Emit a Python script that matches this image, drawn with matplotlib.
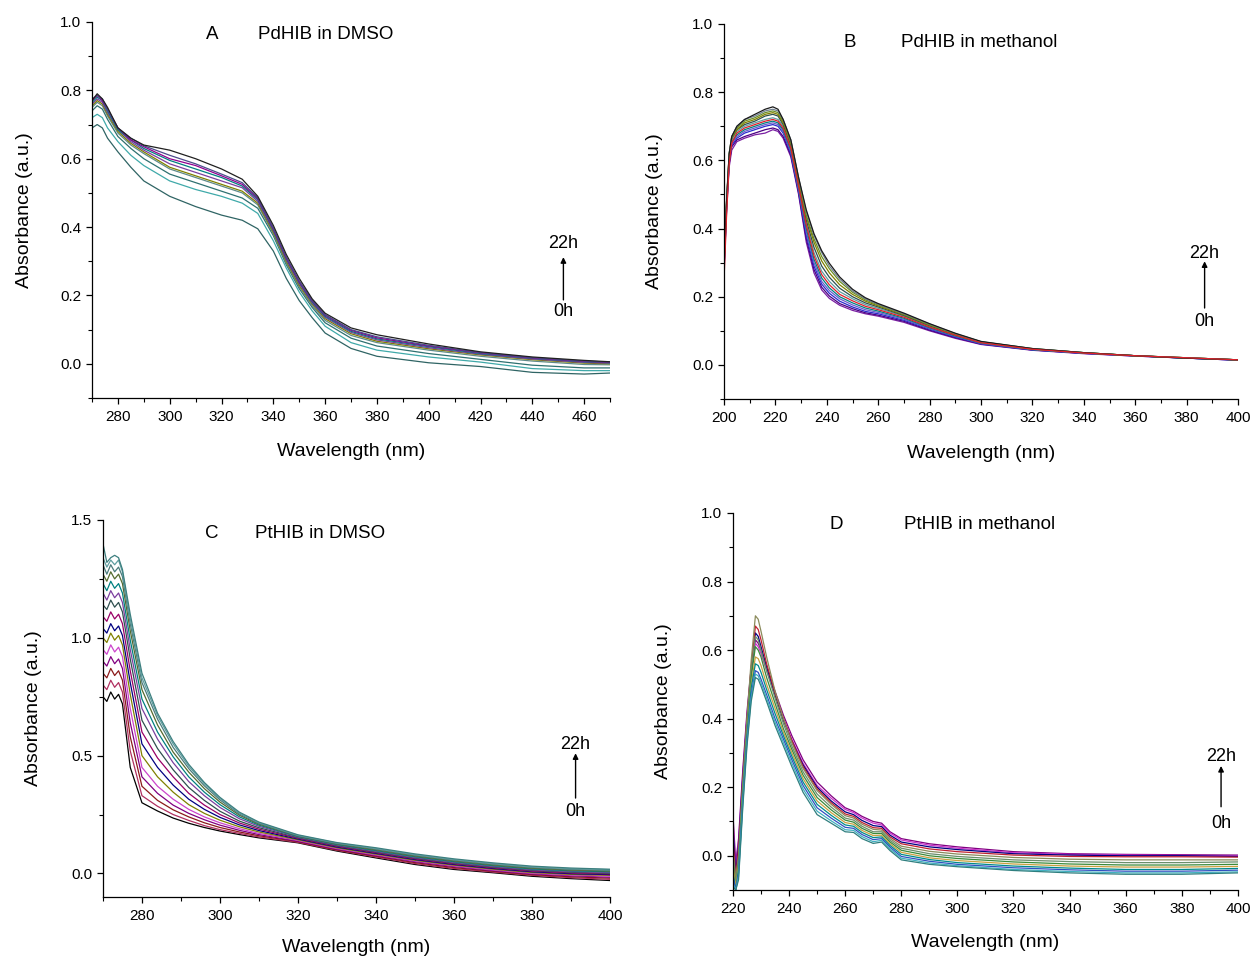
import matplotlib
matplotlib.use("Agg")
import matplotlib.pyplot as plt
from matplotlib.ticker import MultipleLocator

plt.rcParams['font.family'] = ['Liberation Sans', 'DejaVu Sans']

# ---------------- Panel A: PdHIB in DMSO ----------------
a_wavelength = [270, 272, 274, 276, 280, 285, 290, 300, 310, 320, 328, 334, 340, 345, 350,
                355, 360, 370, 380, 400, 420, 440, 460, 470]
a_absorbance = [
    [.69, .70, .69, .66, .62, .575, .535, .49, .46, .435, .42, .395, .33, .25, .185, .135, .09, .045, .022, .003, -.008, -.025, -.03, -.027],
    [.72, .73, .72, .69, .65, .61, .58, .535, .51, .49, .47, .44, .36, .28, .21, .155, .11, .062, .04, .02, .005, -.014, -.02, -.02],
    [.74, .755, .745, .715, .665, .63, .60, .555, .53, .505, .485, .455, .375, .29, .22, .165, .12, .075, .052, .03, .013, -.004, -.012, -.012],
    [.75, .765, .755, .725, .675, .64, .615, .57, .545, .52, .50, .465, .38, .295, .225, .17, .127, .083, .062, .04, .022, .008, -.002, -.003],
    [.755, .77, .76, .73, .68, .645, .62, .575, .55, .525, .505, .47, .385, .30, .23, .175, .132, .088, .066, .044, .026, .012, .002, .0],
    [.76, .775, .765, .735, .685, .65, .625, .585, .56, .535, .515, .475, .39, .305, .235, .178, .136, .092, .07, .047, .028, .014, .004, .002],
    [.765, .78, .77, .74, .685, .655, .63, .595, .57, .545, .52, .48, .392, .308, .238, .181, .139, .095, .073, .05, .03, .016, .006, .003],
    [.77, .785, .77, .745, .69, .655, .635, .60, .58, .55, .525, .483, .395, .31, .24, .184, .142, .098, .076, .052, .032, .017, .007, .004],
    [.775, .785, .775, .745, .69, .66, .638, .61, .585, .555, .53, .486, .398, .313, .243, .186, .144, .10, .079, .054, .033, .018, .008, .005],
    [.77, .79, .775, .75, .69, .66, .64, .625, .60, .57, .54, .49, .405, .32, .25, .19, .148, .105, .085, .058, .035, .02, .01, .006],
]
a_colors = ['#2F6464', '#3FA9A9', '#2E7070', '#5E8A8A', '#808000', '#7B3F9E', '#008080',
            '#900090', '#4B4B8B', '#202020']

# ---------------- Panel B: PdHIB in methanol ----------------
b_wavelength = [200, 201, 202, 203, 205, 208, 212, 216, 219, 221, 223, 226, 229, 232, 235, 238,
                241, 245, 250, 255, 260, 270, 280, 290, 300, 320, 340, 360, 380, 400]
b_absorbance = [
    [.27, .45, .58, .63, .655, .665, .675, .68, .69, .685, .665, .61, .50, .36, .27, .22, .195, .175, .16, .15, .143, .125, .10, .078, .06, .043, .033, .026, .02, .014],
    [.28, .46, .59, .64, .66, .67, .68, .69, .695, .69, .67, .615, .505, .37, .28, .228, .202, .18, .165, .153, .146, .128, .102, .08, .061, .044, .034, .026, .02, .014],
    [.28, .46, .595, .645, .665, .68, .69, .70, .705, .70, .68, .62, .51, .38, .29, .237, .21, .187, .17, .157, .15, .131, .105, .082, .062, .044, .034, .027, .02, .014],
    [.29, .47, .60, .65, .67, .685, .695, .705, .71, .705, .685, .625, .515, .39, .30, .245, .218, .194, .176, .162, .154, .134, .107, .084, .063, .045, .035, .027, .02, .015],
    [.29, .47, .60, .655, .675, .69, .70, .71, .715, .71, .69, .63, .52, .40, .31, .255, .226, .20, .182, .167, .158, .137, .109, .085, .064, .045, .035, .027, .02, .015],
    [.29, .47, .61, .66, .685, .70, .71, .72, .725, .72, .70, .64, .53, .415, .33, .275, .245, .215, .194, .177, .166, .143, .113, .088, .066, .046, .035, .027, .021, .015],
    [.30, .48, .61, .665, .69, .705, .715, .73, .735, .73, .705, .645, .535, .425, .345, .29, .257, .225, .20, .182, .17, .145, .115, .089, .067, .047, .036, .027, .021, .015],
    [.30, .48, .615, .665, .69, .71, .72, .735, .74, .735, .71, .65, .54, .435, .36, .305, .27, .235, .207, .187, .173, .147, .117, .09, .067, .047, .036, .027, .021, .015],
    [.30, .48, .62, .67, .695, .715, .725, .74, .745, .74, .715, .655, .545, .44, .37, .318, .282, .245, .213, .191, .176, .149, .118, .091, .068, .048, .036, .027, .021, .015],
    [.31, .49, .62, .67, .70, .72, .73, .745, .75, .745, .72, .66, .55, .45, .38, .33, .29, .252, .217, .194, .178, .15, .12, .092, .068, .048, .036, .027, .021, .015],
    [.30, .48, .62, .67, .70, .72, .735, .75, .757, .75, .72, .66, .55, .455, .385, .335, .298, .258, .222, .197, .18, .152, .121, .093, .069, .048, .036, .027, .02, .015],
    [.25, .44, .59, .65, .68, .695, .705, .715, .72, .715, .695, .635, .525, .41, .32, .265, .235, .207, .188, .172, .162, .14, .111, .087, .065, .046, .035, .027, .021, .015],
]
b_colors = ['#7A1FA2', '#4B0082', '#2A2ACD', '#6A5ACD', '#008080', '#5F9EA0', '#2F4F4F',
            '#808000', '#6B8E23', '#708090', '#1A1A1A', '#E0202A']

# ---------------- Panel C: PtHIB in DMSO ----------------
c_wavelength = [270, 271, 272, 273, 274, 275, 277, 280, 284, 288, 292, 296, 300, 305, 310,
                320, 330, 340, 350, 360, 370, 380, 390, 400]
c_absorbance = [
    [.75, .73, .77, .74, .76, .72, .45, .30, .265, .235, .213, .195, .18, .165, .151, .13, .095, .066, .038, .017, .003, -.012, -.022, -.03],
    [.80, .78, .82, .79, .81, .77, .52, .33, .285, .25, .225, .203, .186, .17, .155, .132, .098, .07, .042, .021, .006, -.008, -.018, -.025],
    [.85, .83, .87, .84, .86, .82, .58, .37, .31, .27, .24, .215, .195, .176, .16, .135, .10, .073, .046, .025, .009, -.005, -.014, -.02],
    [.90, .88, .92, .89, .91, .87, .64, .41, .34, .29, .255, .228, .205, .183, .165, .137, .103, .076, .05, .029, .012, -.002, -.01, -.016],
    [.95, .93, .97, .94, .96, .92, .70, .45, .37, .315, .272, .24, .215, .19, .17, .14, .106, .079, .053, .032, .015, .001, -.007, -.012],
    [1.00, .98, 1.02, .99, 1.01, .97, .76, .50, .41, .345, .292, .255, .226, .198, .176, .143, .109, .082, .056, .035, .018, .004, -.004, -.008],
    [1.04, 1.02, 1.06, 1.03, 1.05, 1.01, .81, .55, .45, .375, .315, .272, .238, .206, .182, .146, .112, .085, .059, .038, .021, .007, -.001, -.005],
    [1.09, 1.07, 1.11, 1.08, 1.10, 1.06, .86, .60, .49, .41, .34, .29, .25, .214, .188, .149, .115, .088, .062, .041, .024, .01, .002, -.002],
    [1.14, 1.12, 1.16, 1.13, 1.15, 1.11, .91, .65, .53, .44, .365, .31, .264, .222, .194, .152, .118, .091, .065, .044, .027, .013, .005, .001],
    [1.19, 1.16, 1.20, 1.17, 1.19, 1.15, .95, .70, .57, .47, .39, .33, .28, .232, .20, .155, .121, .094, .068, .047, .03, .016, .008, .004],
    [1.23, 1.20, 1.24, 1.21, 1.23, 1.19, .99, .74, .60, .495, .41, .345, .292, .24, .205, .157, .123, .097, .071, .05, .033, .019, .011, .007],
    [1.27, 1.24, 1.28, 1.25, 1.27, 1.23, 1.03, .78, .63, .515, .43, .36, .303, .247, .209, .159, .125, .10, .074, .053, .036, .022, .014, .01],
    [1.31, 1.27, 1.31, 1.28, 1.30, 1.26, 1.06, .81, .655, .535, .445, .372, .312, .252, .212, .16, .127, .103, .077, .056, .039, .025, .017, .013],
    [1.34, 1.30, 1.33, 1.31, 1.33, 1.28, 1.08, .83, .67, .55, .455, .38, .318, .256, .215, .162, .129, .106, .08, .059, .042, .028, .02, .016],
    [1.40, 1.32, 1.34, 1.35, 1.34, 1.29, 1.10, .85, .68, .56, .463, .386, .323, .26, .218, .164, .131, .109, .083, .062, .045, .031, .023, .018],
]
c_colors = ['#000000', '#B03060', '#8B1A1A', '#800080', '#CC44CC', '#808000', '#000080',
            '#990066', '#2F4F4F', '#7B3F9E', '#008080', '#556B2F', '#4B7B7B', '#5F9EA0', '#3C7F7F']

# ---------------- Panel D: PtHIB in methanol ----------------
d_wavelength = [220, 221, 222, 223.5, 225, 226.5, 228, 229, 230, 232, 235, 238, 241, 245, 250,
                255, 260, 263, 266, 270, 273, 276, 280, 290, 300, 320, 340, 360, 380, 400]
d_absorbance = [
    [.12, -.02, .05, .25, .42, .55, .63, .62, .60, .55, .48, .41, .35, .28, .215, .175, .14, .13, .115, .10, .095, .07, .05, .035, .026, .012, .006, .004, .003, .002],
    [.10, -.04, .04, .24, .41, .54, .62, .61, .59, .54, .47, .40, .34, .27, .205, .168, .135, .126, .11, .095, .09, .066, .046, .031, .022, .009, .004, .002, .001, .0],
    [.08, -.05, .03, .23, .40, .53, .65, .64, .61, .55, .47, .395, .335, .265, .20, .16, .128, .12, .103, .088, .085, .06, .04, .026, .018, .006, .002, .0, .0, -.002],
    [.05, -.06, .02, .22, .40, .55, .67, .66, .63, .56, .475, .40, .335, .26, .195, .155, .122, .115, .097, .082, .08, .055, .035, .02, .012, .002, -.002, -.003, -.003, -.004],
    [.02, -.07, .0, .21, .40, .57, .70, .69, .655, .58, .48, .40, .33, .255, .19, .15, .117, .11, .092, .077, .075, .05, .028, .013, .005, -.005, -.01, -.012, -.012, -.012],
    [.0, -.08, -.01, .20, .38, .54, .64, .63, .60, .54, .46, .385, .32, .245, .18, .142, .11, .104, .086, .07, .07, .045, .022, .006, -.002, -.012, -.017, -.02, -.02, -.018],
    [-.02, -.09, -.02, .19, .37, .52, .61, .60, .58, .52, .445, .37, .31, .235, .17, .134, .104, .098, .08, .065, .065, .04, .016, .0, -.008, -.018, -.024, -.027, -.027, -.025],
    [-.03, -.09, -.03, .18, .36, .50, .58, .575, .555, .50, .43, .36, .30, .225, .16, .126, .097, .092, .074, .059, .06, .035, .01, -.006, -.014, -.024, -.03, -.033, -.033, -.031],
    [-.05, -.10, -.04, .17, .35, .49, .56, .555, .535, .485, .415, .35, .29, .215, .15, .118, .09, .086, .068, .053, .055, .03, .004, -.011, -.02, -.03, -.036, -.04, -.04, -.037],
    [-.06, -.10, -.05, .16, .34, .47, .54, .535, .515, .47, .40, .34, .28, .205, .14, .11, .083, .08, .062, .047, .05, .025, -.002, -.016, -.025, -.035, -.041, -.045, -.045, -.042],
    [-.08, -.10, -.06, .15, .33, .46, .53, .525, .505, .46, .39, .33, .27, .195, .13, .102, .076, .074, .056, .041, .045, .02, -.007, -.021, -.029, -.04, -.046, -.05, -.05, -.047],
    [-.09, -.10, -.07, .14, .32, .45, .52, .515, .495, .45, .38, .32, .26, .185, .12, .095, .07, .068, .05, .036, .04, .015, -.012, -.025, -.032, -.043, -.05, -.054, -.054, -.05],
]
d_colors = ['#800080', '#CC33CC', '#000080', '#C02030', '#8A8A5A', '#6B8E6B', '#3A8A3A',
            '#C8A040', '#008B8B', '#3050C0', '#40B0C0', '#2F7F7F']

# ---------------- layout ----------------
panels = [
    dict(wl=a_wavelength, ab=a_absorbance, colors=a_colors, rect=[0.0732, 0.5837, 0.4121, 0.3933],
         xlim=(270, 470), ylim=(-0.1, 1.0), xmaj=20, xmin=10, ymaj=0.2, ymin=0.1, xfirst=280,
         letter='A', letter_x=316.5, title='PdHIB in DMSO', title_x=334, title_y=0.962,
         arrow_x=452, t22=0.351, t0=0.152, a_lo=0.187, a_hi=0.312, ylab=(-0.114, 0.5), xlab=(0.5, -0.120)),
    dict(wl=b_wavelength, ab=b_absorbance, colors=b_colors, rect=[0.5760, 0.5826, 0.4089, 0.3923],
         xlim=(200, 400), ylim=(-0.1, 1.0), xmaj=20, xmin=10, ymaj=0.2, ymin=0.1, xfirst=200,
         letter='B', letter_x=249, title='PdHIB in methanol', title_x=269, title_y=0.946,
         arrow_x=387, t22=0.328, t0=0.128, a_lo=0.167, a_hi=0.304, ylab=(-0.119, 0.5), xlab=(0.5, -0.123)),
    dict(wl=c_wavelength, ab=c_absorbance, colors=c_colors, rect=[0.0819, 0.0617, 0.4033, 0.3944],
         xlim=(270, 400), ylim=(-0.1, 1.5), xmaj=20, xmin=10, ymaj=0.5, ymin=0.25, xfirst=280,
         letter='C', letter_x=298, title='PtHIB in DMSO', title_x=309, title_y=1.443,
         arrow_x=391.2, t22=0.547, t0=0.264, a_lo=0.32, a_hi=0.51, ylab=(-0.120, 0.5), xlab=(0.5, -0.111)),
    dict(wl=d_wavelength, ab=d_absorbance, colors=d_colors, rect=[0.5831, 0.0690, 0.4017, 0.3944],
         xlim=(220, 400), ylim=(-0.1, 1.0), xmaj=20, xmin=10, ymaj=0.2, ymin=0.1, xfirst=220,
         letter='D', letter_x=257, title='PtHIB in methanol', title_x=281, title_y=0.966,
         arrow_x=394, t22=0.289, t0=0.094, a_lo=0.143, a_hi=0.262, ylab=(-0.121, 0.5), xlab=(0.5, -0.116)),
]

fig = plt.figure(figsize=(12.57, 9.56), dpi=100)
fig.patch.set_facecolor('white')

for p in panels:
    ax = fig.add_axes(p['rect'])
    for curve, col in zip(p['ab'], p['colors']):
        ax.plot(p['wl'], curve, color=col, lw=0.9)
    ax.set_xlim(*p['xlim'])
    ax.set_ylim(*p['ylim'])
    for s in ['top', 'right']:
        ax.spines[s].set_visible(False)
    for s in ['left', 'bottom']:
        ax.spines[s].set_linewidth(0.9)
    ax.xaxis.set_major_locator(MultipleLocator(p['xmaj']))
    ax.xaxis.set_minor_locator(MultipleLocator(p['xmin']))
    ax.yaxis.set_major_locator(MultipleLocator(p['ymaj']))
    ax.yaxis.set_minor_locator(MultipleLocator(p['ymin']))
    ax.tick_params(which='major', direction='out', length=4.2, width=0.9, labelsize=11)
    ax.tick_params(which='minor', direction='out', length=3.2, width=0.8)
    ax.tick_params(axis='x', which='major', pad=4.5)
    xt = [t for t in ax.get_xticks() if p['xfirst'] <= t <= p['xlim'][1] + 1e-6]
    ax.set_xticks(xt)
    ax.set_xticklabels([f"{int(round(t))}" for t in xt])
    yt = [t for t in ax.get_yticks() if -1e-6 <= t <= p['ylim'][1] + 1e-6]
    ax.set_yticks(yt)
    ax.set_yticklabels([f"{t:.1f}" for t in yt])
    ax.set_xlabel('Wavelength (nm)', fontsize=14)
    ax.set_ylabel('Absorbance (a.u.)', fontsize=14)
    ax.yaxis.set_label_coords(*p['ylab'])
    ax.xaxis.set_label_coords(*p['xlab'])
    ax.text(p['letter_x'], p['title_y'], p['letter'], fontsize=13.5, ha='center', va='center')
    ax.text(p['title_x'], p['title_y'], p['title'], fontsize=13.5, ha='left', va='center')
    ax.text(p['arrow_x'], p['t22'], '22h', fontsize=13, ha='center', va='center')
    ax.text(p['arrow_x'], p['t0'], '0h', fontsize=13, ha='center', va='center')
    ax.annotate('', xy=(p['arrow_x'], p['a_hi']), xytext=(p['arrow_x'], p['a_lo']),
                arrowprops=dict(arrowstyle='-|>', lw=1.0, color='black', mutation_scale=8,
                                shrinkA=0, shrinkB=0))

fig.savefig('out.png', dpi=100, facecolor='white')
